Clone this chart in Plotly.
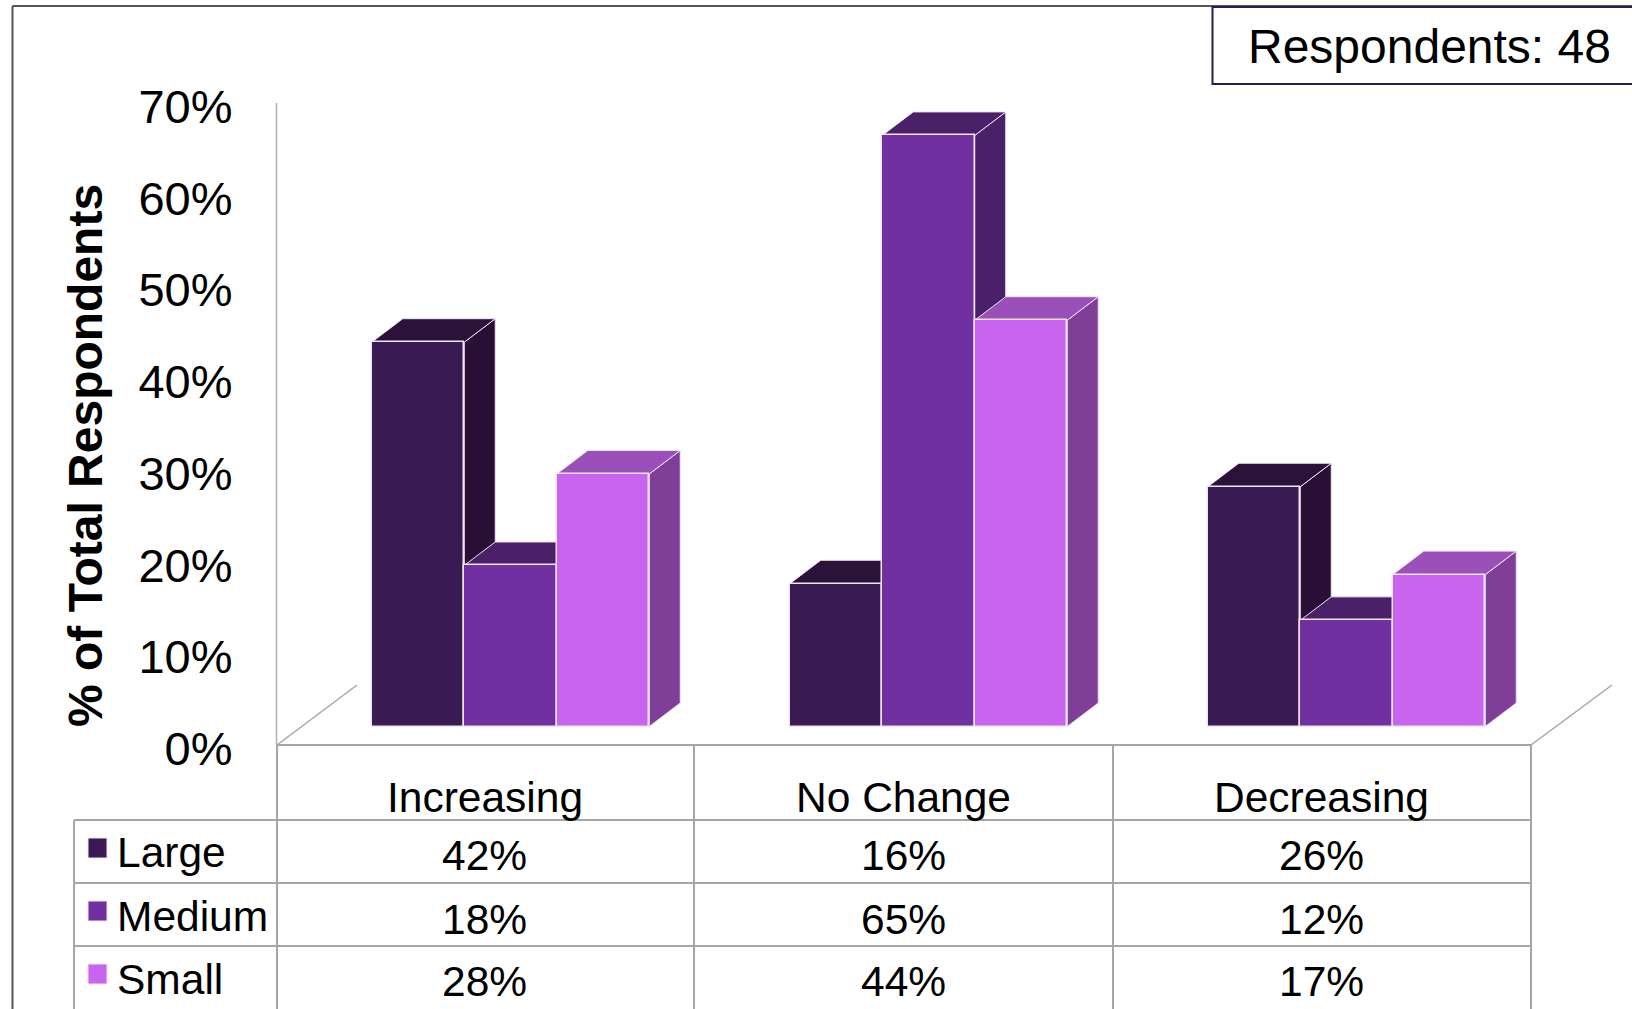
import plotly.graph_objects as go

W, H = 1632, 1009
categories = ["Increasing", "No Change", "Decreasing"]
series_names = ["Large", "Medium", "Small"]
large = [42.0, 15.6, 26.2]
medium = [17.6, 64.6, 11.6]
small = [27.6, 44.4, 16.6]
series_values = [large, medium, small]
front_colors = ["#3A1A52", "#7030A0", "#C864EE"]
side_colors = ["#290F36", "#4A2068", "#7F3F98"]
top_colors = ["#2B1239", "#4A2068", "#9A50B8"]
y_ticks = [0, 10, 20, 30, 40, 50, 60, 70]
y_tick_labels = ["0%", "10%", "20%", "30%", "40%", "50%", "60%", "70%"]

FONT = "Liberation Sans, Arial, sans-serif"
PX_PER_PCT = 9.15
PX_PER_CAT = 418.0
BASE_Y = 726.5
FIRST_X = 510.5
BAR_W = 92.5 / PX_PER_CAT
DX = 31.0 / PX_PER_CAT
DY = 23.5 / PX_PER_PCT


def fx(p):
    return p / W


def fy(p):
    return 1 - p / H


fig = go.Figure()
EDGE = "#EDE6F2"
for s, (name, vals) in enumerate(zip(series_names, series_values)):
    offs = (s - 1) * BAR_W
    sx, sy, tx, ty = [], [], [], []
    for i, v in enumerate(vals):
        l = i + offs - BAR_W / 2
        r = i + offs + BAR_W / 2
        sx += [r, r + DX, r + DX, r, r, None]
        sy += [0, DY, v + DY, v, 0, None]
        tx += [l, l + DX, r + DX, r, l, None]
        ty += [v, v + DY, v + DY, v, v, None]
    common = dict(mode="lines", fill="toself", hoverinfo="skip", showlegend=False)
    fig.add_trace(go.Scatter(x=sx, y=sy, fillcolor=side_colors[s],
                             line=dict(color=EDGE, width=1), zorder=3 * s + 1, **common))
    fig.add_trace(go.Scatter(x=tx, y=ty, fillcolor=top_colors[s],
                             line=dict(color=EDGE, width=1), zorder=3 * s + 2, **common))
    fig.add_trace(go.Bar(x=[i + offs for i in range(3)], y=vals, width=BAR_W, name=name,
                         marker=dict(color=front_colors[s], line=dict(color=EDGE, width=1.5)),
                         showlegend=False, zorder=3 * s + 3))

# invisible carrier so the value axis is drawn
fig.add_trace(go.Scatter(x=[0, 0], y=[0, 70], yaxis="y2", mode="markers",
                         marker=dict(opacity=0), hoverinfo="skip", showlegend=False))

GRID = "#A6A6A6"
shapes = []


def line(x0, y0, x1, y1, color=GRID, width=2):
    shapes.append(dict(type="line", xref="paper", yref="paper", x0=fx(x0), y0=fy(y0),
                       x1=fx(x1), y1=fy(y1), line=dict(color=color, width=width)))


# frame
line(12.5, 6, W, 6, "#555555", 2)
line(12.5, 6, 12.5, H, "#555555", 2)
# back wall edge of the value axis
line(276.5, 103, 276.5, 745, "#B0B0B0", 1.5)
# floor edges
line(277, 745, 357, 685, GRID, 1.5)
line(1531, 745, 1612, 685, GRID, 1.5)
# data table
col_x = [277, 694, 1113, 1531]
row_y = [745, 820, 883, 946]
line(col_x[0], row_y[0], col_x[-1], row_y[0])
for y in row_y[1:]:
    line(74, y, col_x[-1], y)
for x in col_x:
    line(x, row_y[0], x, H)
line(74, row_y[1], 74, H)
# respondents box
shapes.append(dict(type="rect", xref="paper", yref="paper", x0=fx(1212.5), y0=fy(7),
                   x1=fx(1640), y1=fy(84), line=dict(color="#1F1F5A", width=2),
                   fillcolor="white"))
# legend swatches
swatch_y = [848, 911, 974]
for s, c in enumerate(front_colors):
    shapes.append(dict(type="rect", xref="paper", yref="paper", x0=fx(88), x1=fx(107),
                       y0=fy(swatch_y[s] + 10), y1=fy(swatch_y[s] - 10),
                       fillcolor=c, line=dict(color="#EDE6F2", width=1)))

ann = []


def text(t, x, y, size=42.5, anchor="center", **kw):
    ann.append(dict(text=t, xref="paper", yref="paper", x=fx(x), y=fy(y), showarrow=False,
                    xanchor=anchor, yanchor="middle", font=dict(family=FONT, size=size, color="black"), **kw))


cell_x = [484.5, 903, 1321.5]
head_y = 797
row_text_y = [855.5, 919, 981]
leg_text_y = [852, 916, 979]
for c, x in zip(categories, cell_x):
    text(c, x, head_y)
for s, (name, vals) in enumerate(zip(series_names, series_values)):
    text(name, 115, leg_text_y[s], anchor="left")
    for v, x in zip(vals, cell_x):
        text(f"{v:.0f}%", x, row_text_y[s])
text("Respondents: 48", 1429, 47, size=48)
text("<b>% of Total Respondents</b>", 86, 456, size=48, textangle=-90)

fig.update_layout(
    template="none",
    width=W, height=H, margin=dict(l=0, r=0, t=0, b=0, pad=0), autosize=False,
    paper_bgcolor="white", plot_bgcolor="rgba(0,0,0,0)", bargap=0, barmode="overlay",
    xaxis=dict(range=[-FIRST_X / PX_PER_CAT, (W - FIRST_X) / PX_PER_CAT], visible=False,
               domain=[0, 1], fixedrange=True, automargin=False),
    yaxis=dict(range=[(BASE_Y - H) / PX_PER_PCT, BASE_Y / PX_PER_PCT], visible=False,
               domain=[0, 1], fixedrange=True, automargin=False),
    yaxis2=dict(domain=[fy(748.5), fy(106.5)], range=[0, 70], anchor="free", position=fx(276.5),
                tickvals=y_ticks, ticktext=y_tick_labels, showgrid=False, zeroline=False,
                showline=False, ticks="", ticklabelstandoff=44,
                automargin=False,
                tickfont=dict(family=FONT, size=47, color="black"), fixedrange=True),
    shapes=shapes, annotations=ann, showlegend=False,
)
fig.write_html("out.html", config=dict(displayModeBar=False),
               post_script="document.body.style.margin='0';document.body.style.overflow='hidden';")
